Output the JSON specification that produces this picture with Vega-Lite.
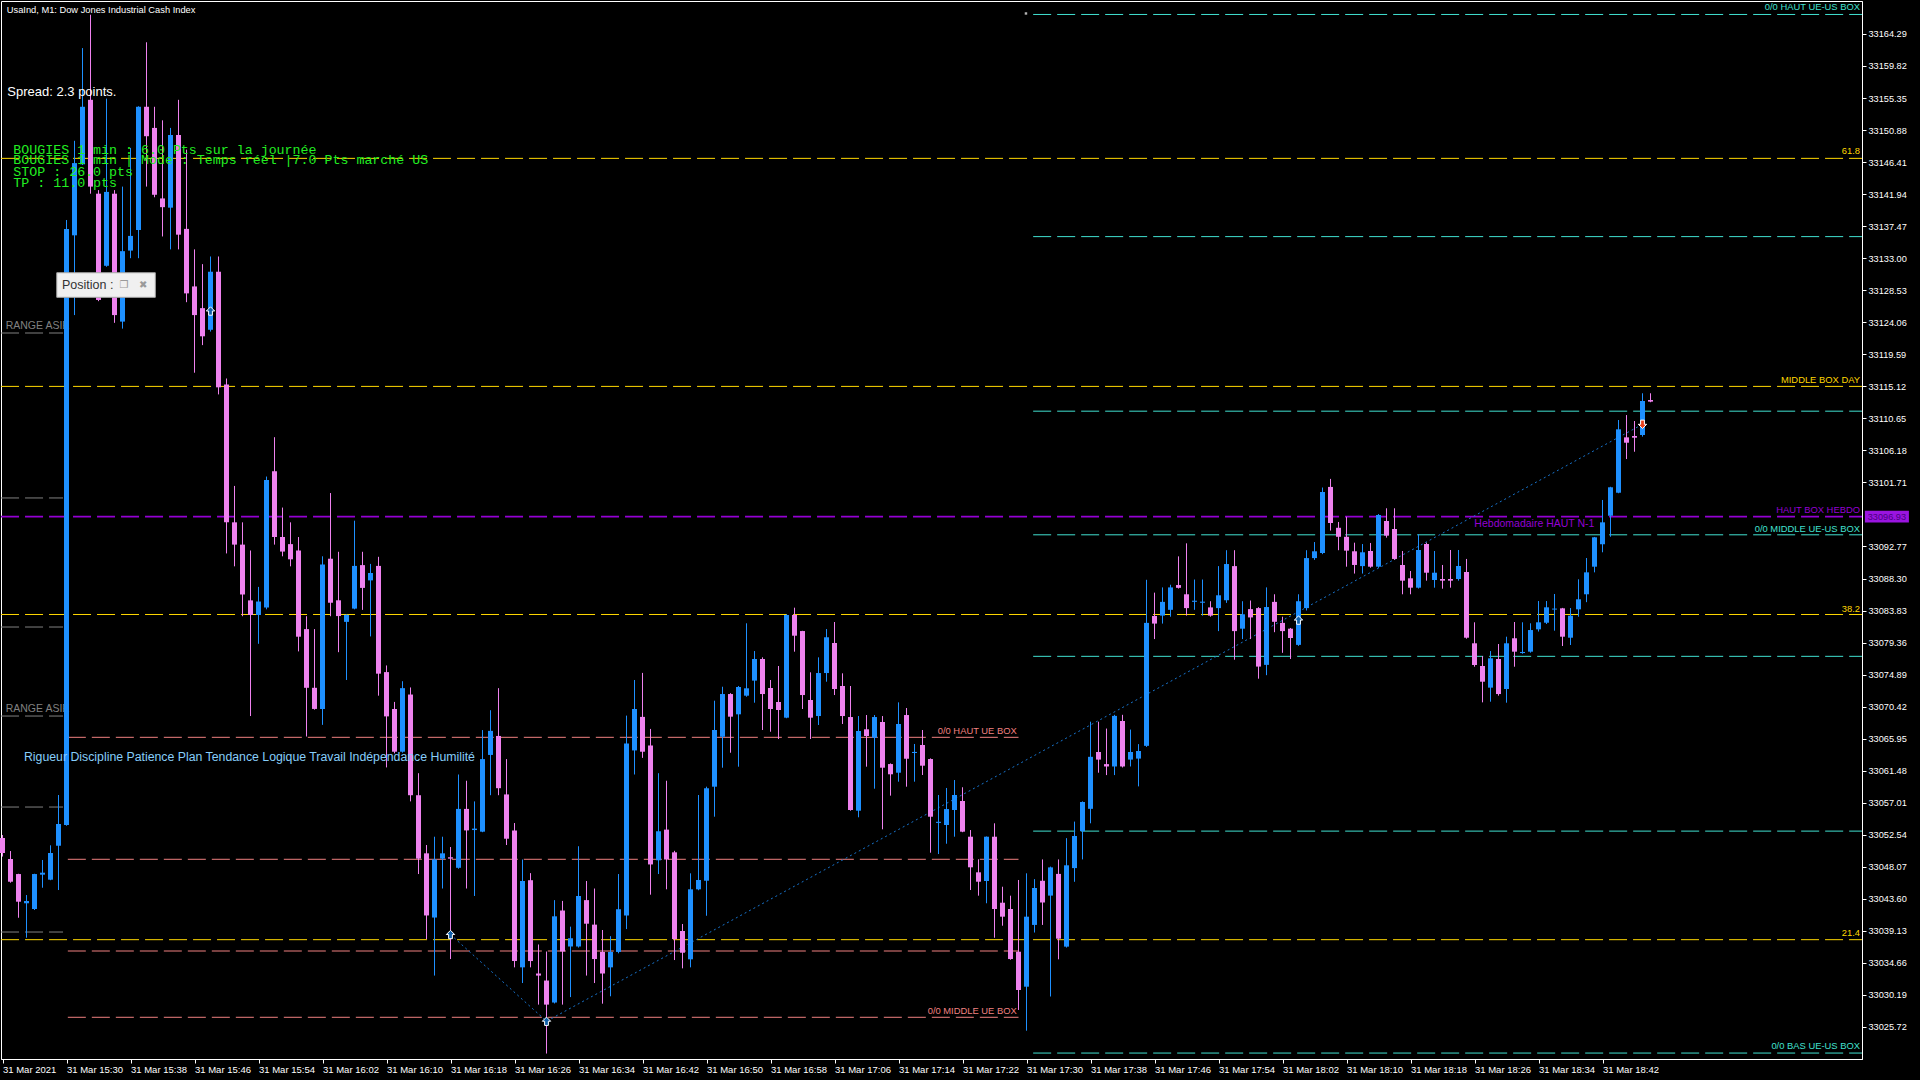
{
  "$schema": "https://vega.github.io/schema/vega-lite/v6.json",
  "width": 1861,
  "height": 1058,
  "autosize": {"type": "none"},
  "padding": {"left": 1, "top": 1, "right": 58, "bottom": 21},
  "background": "#000000",
  "config": {
    "view": {"stroke": "#ffffff", "strokeWidth": 1},
    "font": "Liberation Sans",
    "scale": {"continuousPadding": 0},
    "axis": {"labelOverlap": false, "labelFlush": false, "labelBound": false, "grid": false}
  },
  "datasets": {
    "candles": [
      {"t":"15:22","o":33052.09,"h":33052.5,"l":33049.5,"c":33050.0},
      {"t":"15:23","o":33049.16,"h":33050.27,"l":33045.85,"c":33045.99},
      {"t":"15:24","o":33047.06,"h":33047.1,"l":33040.96,"c":33043.2},
      {"t":"15:25","o":33042.98,"h":33044.13,"l":33038.17,"c":33043.3},
      {"t":"15:26","o":33042.18,"h":33047.1,"l":33042.04,"c":33047.06},
      {"t":"15:27","o":33046.97,"h":33049.02,"l":33045.15,"c":33047.25},
      {"t":"15:28","o":33046.27,"h":33051.07,"l":33046.2,"c":33050.0},
      {"t":"15:29","o":33051.01,"h":33058.09,"l":33044.83,"c":33054.04},
      {"t":"15:30","o":33053.9,"h":33138.33,"l":33053.8,"c":33137.09},
      {"t":"15:31","o":33136.19,"h":33149.38,"l":33125.06,"c":33146.27},
      {"t":"15:32","o":33146.1,"h":33162.32,"l":33146.0,"c":33154.13},
      {"t":"15:33","o":33155.1,"h":33166.98,"l":33142.0,"c":33142.99},
      {"t":"15:34","o":33142.0,"h":33142.5,"l":33127.0,"c":33127.17},
      {"t":"15:35","o":33131.94,"h":33155.27,"l":33131.8,"c":33142.25},
      {"t":"15:36","o":33142.0,"h":33142.5,"l":33123.98,"c":33125.06},
      {"t":"15:37","o":33124.15,"h":33142.99,"l":33123.17,"c":33133.98},
      {"t":"15:38","o":33134.06,"h":33148.39,"l":33133.0,"c":33136.11},
      {"t":"15:39","o":33136.93,"h":33154.2,"l":33133.0,"c":33154.13},
      {"t":"15:40","o":33154.13,"h":33163.13,"l":33142.99,"c":33150.02},
      {"t":"15:41","o":33151.18,"h":33154.13,"l":33141.5,"c":33141.85},
      {"t":"15:42","o":33141.34,"h":33152.24,"l":33136.03,"c":33140.12},
      {"t":"15:43","o":33140.05,"h":33151.18,"l":33134.23,"c":33150.19},
      {"t":"15:44","o":33150.19,"h":33155.1,"l":33134.23,"c":33136.28},
      {"t":"15:45","o":33137.09,"h":33148.15,"l":33126.86,"c":33128.09},
      {"t":"15:46","o":33129.06,"h":33134.23,"l":33117.02,"c":33125.06},
      {"t":"15:47","o":33126.03,"h":33132.17,"l":33120.87,"c":33122.1},
      {"t":"15:48","o":33123.01,"h":33133.24,"l":33122.76,"c":33131.11},
      {"t":"15:49","o":33131.11,"h":33133.24,"l":33113.99,"c":33114.98},
      {"t":"15:50","o":33115.39,"h":33116.21,"l":33091.8,"c":33096.14},
      {"t":"15:51","o":33096.14,"h":33101.22,"l":33090.0,"c":33093.03},
      {"t":"15:52","o":33093.03,"h":33096.14,"l":33083.04,"c":33086.07},
      {"t":"15:53","o":33085.25,"h":33092.21,"l":33069.11,"c":33083.21},
      {"t":"15:54","o":33083.21,"h":33087.13,"l":33079.19,"c":33085.09},
      {"t":"15:55","o":33084.27,"h":33102.53,"l":33084.0,"c":33102.05},
      {"t":"15:56","o":33103.27,"h":33108.02,"l":33093.03,"c":33094.09},
      {"t":"15:57","o":33094.09,"h":33098.2,"l":33091.4,"c":33092.06},
      {"t":"15:58","o":33093.1,"h":33096.14,"l":33090.0,"c":33090.98},
      {"t":"15:59","o":33092.21,"h":33094.09,"l":33078.13,"c":33080.18},
      {"t":"16:00","o":33081.24,"h":33083.04,"l":33066.25,"c":33073.05},
      {"t":"16:01","o":33073.05,"h":33081.24,"l":33070.0,"c":33070.1},
      {"t":"16:02","o":33070.1,"h":33091.4,"l":33067.88,"c":33090.24},
      {"t":"16:03","o":33091.06,"h":33100.23,"l":33083.04,"c":33084.92},
      {"t":"16:04","o":33085.26,"h":33092.03,"l":33078.02,"c":33083.06},
      {"t":"16:05","o":33082.25,"h":33083.3,"l":33074.14,"c":33083.23},
      {"t":"16:06","o":33084.1,"h":33096.37,"l":33084.0,"c":33090.06},
      {"t":"16:07","o":33090.17,"h":33092.03,"l":33083.92,"c":33086.99},
      {"t":"16:08","o":33088.04,"h":33090.34,"l":33080.22,"c":33089.07},
      {"t":"16:09","o":33090.06,"h":33091.33,"l":33071.95,"c":33075.02},
      {"t":"16:10","o":33075.24,"h":33076.17,"l":33061.94,"c":33069.06},
      {"t":"16:11","o":33070.09,"h":33071.08,"l":33063.9,"c":33064.13},
      {"t":"16:12","o":33064.13,"h":33073.97,"l":33064.0,"c":33073.0},
      {"t":"16:13","o":33072.11,"h":33073.1,"l":33057.2,"c":33058.06},
      {"t":"16:14","o":33058.06,"h":33061.13,"l":33047.06,"c":33049.21},
      {"t":"16:15","o":33049.95,"h":33051.11,"l":33037.99,"c":33041.28},
      {"t":"16:16","o":33040.99,"h":33052.27,"l":33032.89,"c":33049.09},
      {"t":"16:17","o":33049.21,"h":33052.27,"l":33045.04,"c":33049.95},
      {"t":"16:18","o":33049.4,"h":33050.83,"l":33035.2,"c":33049.21},
      {"t":"16:19","o":33047.93,"h":33060.95,"l":33047.8,"c":33056.15},
      {"t":"16:20","o":33056.15,"h":33060.08,"l":33045.04,"c":33053.15},
      {"t":"16:21","o":33053.2,"h":33057.2,"l":33044.0,"c":33053.4},
      {"t":"16:22","o":33052.97,"h":33067.15,"l":33052.9,"c":33063.1},
      {"t":"16:23","o":33063.68,"h":33069.92,"l":33058.06,"c":33067.04},
      {"t":"16:24","o":33066.33,"h":33073.0,"l":33058.06,"c":33059.04},
      {"t":"16:25","o":33058.17,"h":33063.1,"l":33051.11,"c":33051.99},
      {"t":"16:26","o":33053.15,"h":33054.18,"l":33034.04,"c":33034.92},
      {"t":"16:27","o":33034.04,"h":33049.09,"l":33031.85,"c":33046.09},
      {"t":"16:28","o":33046.2,"h":33047.19,"l":33034.04,"c":33034.92},
      {"t":"16:29","o":33033.18,"h":33037.23,"l":33028.84,"c":33032.89},
      {"t":"16:30","o":33032.2,"h":33036.25,"l":33022.01,"c":33028.84},
      {"t":"16:31","o":33029.13,"h":33043.42,"l":33029.0,"c":33041.16},
      {"t":"16:32","o":33041.97,"h":33043.31,"l":33028.84,"c":33036.25},
      {"t":"16:33","o":33036.95,"h":33039.72,"l":33029.89,"c":33038.1},
      {"t":"16:34","o":33036.95,"h":33050.94,"l":33036.8,"c":33044.0},
      {"t":"16:35","o":33043.42,"h":33046.09,"l":33032.89,"c":33040.13},
      {"t":"16:36","o":33040.0,"h":33045.04,"l":33031.85,"c":33035.2},
      {"t":"16:37","o":33036.19,"h":33039.25,"l":33028.97,"c":33033.18},
      {"t":"16:38","o":33034.04,"h":33038.39,"l":33030.0,"c":33036.19},
      {"t":"16:39","o":33036.19,"h":33047.06,"l":33036.0,"c":33042.15},
      {"t":"16:40","o":33041.28,"h":33069.17,"l":33039.38,"c":33065.29},
      {"t":"16:41","o":33064.31,"h":33074.14,"l":33060.95,"c":33070.09},
      {"t":"16:42","o":33068.99,"h":33075.13,"l":33063.27,"c":33064.13},
      {"t":"16:43","o":33065.0,"h":33067.31,"l":33044.18,"c":33048.4},
      {"t":"16:44","o":33048.98,"h":33061.13,"l":33047.06,"c":33053.03},
      {"t":"16:45","o":33053.26,"h":33060.08,"l":33044.93,"c":33049.09},
      {"t":"16:46","o":33050.09,"h":33050.3,"l":33035.06,"c":33037.99},
      {"t":"16:47","o":33039.11,"h":33040.09,"l":33033.9,"c":33036.08},
      {"t":"16:48","o":33035.16,"h":33047.16,"l":33034.04,"c":33044.93},
      {"t":"16:49","o":33044.93,"h":33058.09,"l":33044.8,"c":33046.23},
      {"t":"16:50","o":33046.13,"h":33059.25,"l":33041.24,"c":33059.03},
      {"t":"16:51","o":33059.25,"h":33071.25,"l":33055.06,"c":33067.16},
      {"t":"16:52","o":33066.22,"h":33073.2,"l":33061.9,"c":33072.18},
      {"t":"16:53","o":33072.18,"h":33072.3,"l":33063.99,"c":33069.02},
      {"t":"16:54","o":33069.35,"h":33073.3,"l":33062.04,"c":33073.16},
      {"t":"16:55","o":33071.95,"h":33082.05,"l":33071.8,"c":33072.98},
      {"t":"16:56","o":33074.05,"h":33078.18,"l":33070.97,"c":33077.07},
      {"t":"16:57","o":33077.07,"h":33077.3,"l":33067.16,"c":33072.18},
      {"t":"16:58","o":33073.02,"h":33074.14,"l":33066.92,"c":33070.09},
      {"t":"16:59","o":33071.07,"h":33076.09,"l":33065.9,"c":33069.95},
      {"t":"17:00","o":33068.88,"h":33083.3,"l":33068.8,"c":33083.21},
      {"t":"17:01","o":33083.21,"h":33084.23,"l":33078.09,"c":33080.32},
      {"t":"17:02","o":33080.97,"h":33081.0,"l":33070.09,"c":33072.04},
      {"t":"17:03","o":33071.35,"h":33075.21,"l":33065.9,"c":33068.88},
      {"t":"17:04","o":33069.11,"h":33077.3,"l":33067.86,"c":33075.11},
      {"t":"17:05","o":33075.11,"h":33081.25,"l":33073.9,"c":33080.1},
      {"t":"17:06","o":33079.3,"h":33082.23,"l":33072.04,"c":33072.88},
      {"t":"17:07","o":33073.3,"h":33075.07,"l":33068.0,"c":33069.11},
      {"t":"17:08","o":33068.97,"h":33073.3,"l":33055.9,"c":33056.0},
      {"t":"17:09","o":33055.9,"h":33069.11,"l":33054.98,"c":33067.02},
      {"t":"17:10","o":33067.26,"h":33069.25,"l":33062.04,"c":33066.32},
      {"t":"17:11","o":33066.08,"h":33069.25,"l":33058.97,"c":33068.97},
      {"t":"17:12","o":33068.28,"h":33069.11,"l":33053.3,"c":33061.9},
      {"t":"17:13","o":33062.41,"h":33062.5,"l":33058.0,"c":33060.98},
      {"t":"17:14","o":33061.2,"h":33071.02,"l":33059.95,"c":33068.0},
      {"t":"17:15","o":33069.25,"h":33070.23,"l":33059.25,"c":33063.15},
      {"t":"17:16","o":33063.95,"h":33065.21,"l":33059.95,"c":33064.1},
      {"t":"17:17","o":33065.07,"h":33067.16,"l":33060.88,"c":33062.18},
      {"t":"17:18","o":33063.11,"h":33063.2,"l":33050.04,"c":33055.06},
      {"t":"17:19","o":33054.2,"h":33058.09,"l":33049.85,"c":33054.35},
      {"t":"17:20","o":33053.9,"h":33059.07,"l":33051.29,"c":33056.13},
      {"t":"17:21","o":33056.0,"h":33060.18,"l":33052.27,"c":33058.09},
      {"t":"17:22","o":33057.25,"h":33059.17,"l":33052.9,"c":33052.97},
      {"t":"17:23","o":33052.27,"h":33053.2,"l":33044.83,"c":33048.0},
      {"t":"17:24","o":33047.3,"h":33049.12,"l":33044.04,"c":33045.99},
      {"t":"17:25","o":33046.09,"h":33052.3,"l":33042.98,"c":33052.27},
      {"t":"17:26","o":33052.27,"h":33054.14,"l":33038.17,"c":33042.18},
      {"t":"17:27","o":33043.06,"h":33045.29,"l":33039.85,"c":33041.11},
      {"t":"17:28","o":33042.18,"h":33044.04,"l":33035.1,"c":33035.2},
      {"t":"17:29","o":33036.22,"h":33046.23,"l":33028.09,"c":33030.88},
      {"t":"17:30","o":33031.34,"h":33047.16,"l":33025.2,"c":33041.11},
      {"t":"17:31","o":33039.96,"h":33046.35,"l":33038.9,"c":33045.11},
      {"t":"17:32","o":33046.12,"h":33049.1,"l":33039.96,"c":33043.09},
      {"t":"17:33","o":33044.05,"h":33048.1,"l":33029.97,"c":33047.99},
      {"t":"17:34","o":33047.08,"h":33049.1,"l":33035.16,"c":33038.04},
      {"t":"17:35","o":33036.93,"h":33052.07,"l":33036.8,"c":33048.28},
      {"t":"17:36","o":33047.89,"h":33054.38,"l":33045.98,"c":33052.37},
      {"t":"17:37","o":33053.04,"h":33057.2,"l":33049.1,"c":33057.11},
      {"t":"17:38","o":33056.16,"h":33068.32,"l":33054.14,"c":33063.42},
      {"t":"17:39","o":33064.09,"h":33068.32,"l":33061.2,"c":33063.03},
      {"t":"17:40","o":33062.4,"h":33067.36,"l":33060.87,"c":33062.07},
      {"t":"17:41","o":33062.07,"h":33069.28,"l":33060.87,"c":33069.13},
      {"t":"17:42","o":33068.42,"h":33069.28,"l":33061.93,"c":33062.07},
      {"t":"17:43","o":33063.03,"h":33067.22,"l":33062.07,"c":33064.09},
      {"t":"17:44","o":33063.17,"h":33065.19,"l":33059.29,"c":33064.23},
      {"t":"17:45","o":33064.95,"h":33088.12,"l":33064.8,"c":33082.11},
      {"t":"17:46","o":33083.07,"h":33086.33,"l":33079.85,"c":33082.01},
      {"t":"17:47","o":33083.12,"h":33087.06,"l":33082.01,"c":33085.04},
      {"t":"17:48","o":33083.93,"h":33087.43,"l":33082.97,"c":33087.06},
      {"t":"17:49","o":33087.39,"h":33091.39,"l":33086.9,"c":33087.0},
      {"t":"17:50","o":33086.1,"h":33093.21,"l":33083.12,"c":33084.17},
      {"t":"17:51","o":33085.05,"h":33088.16,"l":33083.93,"c":33085.2},
      {"t":"17:52","o":33084.92,"h":33088.16,"l":33083.12,"c":33085.07},
      {"t":"17:53","o":33084.27,"h":33085.13,"l":33082.97,"c":33083.12},
      {"t":"17:54","o":33084.17,"h":33090.03,"l":33080.96,"c":33085.96},
      {"t":"17:55","o":33085.27,"h":33092.25,"l":33084.9,"c":33090.32},
      {"t":"17:56","o":33090.03,"h":33092.25,"l":33076.97,"c":33080.96},
      {"t":"17:57","o":33081.3,"h":33085.13,"l":33079.85,"c":33083.31},
      {"t":"17:58","o":33084.03,"h":33085.23,"l":33079.85,"c":33082.87},
      {"t":"17:59","o":33084.17,"h":33084.3,"l":33074.32,"c":33076.01},
      {"t":"18:00","o":33076.25,"h":33087.06,"l":33074.81,"c":33084.32},
      {"t":"18:01","o":33085.04,"h":33086.1,"l":33080.81,"c":33082.26},
      {"t":"18:02","o":33082.11,"h":33082.97,"l":33077.93,"c":33080.96},
      {"t":"18:03","o":33081.3,"h":33081.4,"l":33077.07,"c":33080.0},
      {"t":"18:04","o":33079.04,"h":33086.1,"l":33078.9,"c":33085.13},
      {"t":"18:05","o":33084.17,"h":33092.25,"l":33083.84,"c":33091.15},
      {"t":"18:06","o":33091.15,"h":33093.39,"l":33090.9,"c":33092.1},
      {"t":"18:07","o":33091.86,"h":33101.0,"l":33091.7,"c":33100.37},
      {"t":"18:08","o":33101.08,"h":33102.2,"l":33094.99,"c":33096.05},
      {"t":"18:09","o":33095.38,"h":33096.19,"l":33092.25,"c":33094.12},
      {"t":"18:10","o":33094.12,"h":33096.91,"l":33089.95,"c":33092.19},
      {"t":"18:11","o":33092.1,"h":33093.3,"l":33088.99,"c":33090.19},
      {"t":"18:12","o":33090.03,"h":33093.11,"l":33088.99,"c":33091.96},
      {"t":"18:13","o":33092.14,"h":33093.26,"l":33089.8,"c":33089.95},
      {"t":"18:14","o":33089.95,"h":33097.3,"l":33089.8,"c":33097.16},
      {"t":"18:15","o":33096.33,"h":33098.1,"l":33094.0,"c":33094.28},
      {"t":"18:16","o":33095.21,"h":33098.1,"l":33090.9,"c":33091.03},
      {"t":"18:17","o":33090.19,"h":33092.14,"l":33086.1,"c":33088.0},
      {"t":"18:18","o":33088.33,"h":33089.35,"l":33086.1,"c":33087.02},
      {"t":"18:19","o":33087.02,"h":33094.47,"l":33086.9,"c":33092.28},
      {"t":"18:20","o":33093.12,"h":33093.3,"l":33088.0,"c":33089.11},
      {"t":"18:21","o":33088.09,"h":33092.14,"l":33087.02,"c":33089.11},
      {"t":"18:22","o":33088.23,"h":33090.19,"l":33086.88,"c":33088.0},
      {"t":"18:23","o":33088.23,"h":33092.28,"l":33087.02,"c":33088.0},
      {"t":"18:24","o":33088.23,"h":33092.28,"l":33088.0,"c":33090.05},
      {"t":"18:25","o":33089.21,"h":33091.03,"l":33079.9,"c":33080.04},
      {"t":"18:26","o":33079.26,"h":33082.19,"l":33075.99,"c":33076.23},
      {"t":"18:27","o":33076.09,"h":33077.48,"l":33071.02,"c":33073.9},
      {"t":"18:28","o":33073.07,"h":33078.18,"l":33071.11,"c":33077.16},
      {"t":"18:29","o":33077.07,"h":33079.16,"l":33071.95,"c":33072.18},
      {"t":"18:30","o":33072.88,"h":33080.18,"l":33070.97,"c":33079.26},
      {"t":"18:31","o":33079.96,"h":33082.23,"l":33075.99,"c":33078.09},
      {"t":"18:32","o":33077.9,"h":33082.19,"l":33077.8,"c":33078.05},
      {"t":"18:33","o":33078.09,"h":33082.05,"l":33077.95,"c":33081.11},
      {"t":"18:34","o":33081.21,"h":33085.16,"l":33080.9,"c":33082.19},
      {"t":"18:35","o":33082.13,"h":33085.16,"l":33081.95,"c":33084.28},
      {"t":"18:36","o":33083.97,"h":33086.14,"l":33081.02,"c":33084.1},
      {"t":"18:37","o":33084.14,"h":33084.2,"l":33078.88,"c":33080.18},
      {"t":"18:38","o":33080.04,"h":33084.18,"l":33079.02,"c":33083.11},
      {"t":"18:39","o":33084.0,"h":33088.19,"l":33082.97,"c":33085.4},
      {"t":"18:40","o":33086.1,"h":33091.16,"l":33085.0,"c":33089.16},
      {"t":"18:41","o":33089.95,"h":33094.1,"l":33089.16,"c":33094.05},
      {"t":"18:42","o":33093.08,"h":33099.26,"l":33091.96,"c":33096.14},
      {"t":"18:43","o":33097.06,"h":33101.1,"l":33094.13,"c":33101.03},
      {"t":"18:44","o":33100.27,"h":33110.42,"l":33100.2,"c":33109.12},
      {"t":"18:45","o":33108.0,"h":33111.11,"l":33104.97,"c":33107.25},
      {"t":"18:46","o":33108.19,"h":33110.28,"l":33105.99,"c":33107.95},
      {"t":"18:47","o":33108.33,"h":33114.15,"l":33108.1,"c":33113.07},
      {"t":"18:48","o":33113.21,"h":33114.15,"l":33112.9,"c":33112.98}
    ],
    "levels": [
      {"g":"fibo","p":33146.93,"t0":"15:21:49","t1":"19:14:26"},
      {"g":"fibo","p":33115.11,"t0":"15:21:49","t1":"19:14:26"},
      {"g":"fibo","p":33083.28,"t0":"15:21:49","t1":"19:14:26"},
      {"g":"fibo","p":33037.9,"t0":"15:21:49","t1":"19:14:26"},
      {"g":"hebdo","p":33096.93,"t0":"15:21:49","t1":"19:14:26"},
      {"g":"box","p":33167.01,"t0":"17:30:50","t1":"19:14:26"},
      {"g":"box","p":33136.01,"t0":"17:30:50","t1":"19:14:26"},
      {"g":"box","p":33111.65,"t0":"17:30:50","t1":"19:14:26"},
      {"g":"box","p":33094.4,"t0":"17:30:50","t1":"19:14:26"},
      {"g":"box","p":33077.44,"t0":"17:30:50","t1":"19:14:26"},
      {"g":"box","p":33053.05,"t0":"17:30:50","t1":"19:14:26"},
      {"g":"box","p":33022.08,"t0":"17:30:50","t1":"19:14:26"},
      {"g":"ue","p":33066.14,"t0":"15:30:10","t1":"17:29:00"},
      {"g":"ue","p":33049.12,"t0":"15:30:10","t1":"17:29:00"},
      {"g":"ue","p":33036.32,"t0":"15:30:10","t1":"17:29:00"},
      {"g":"ue","p":33027.07,"t0":"15:30:10","t1":"17:29:00"},
      {"g":"asie","p":33122.56,"t0":"15:21:49","t1":"15:29:34"},
      {"g":"asie","p":33099.54,"t0":"15:21:49","t1":"15:29:34"},
      {"g":"asie","p":33081.53,"t0":"15:21:49","t1":"15:29:34"},
      {"g":"asie","p":33069.11,"t0":"15:21:49","t1":"15:29:34"},
      {"g":"asie","p":33056.41,"t0":"15:21:49","t1":"15:29:34"},
      {"g":"asie","p":33038.97,"t0":"15:21:49","t1":"15:29:34"}
    ],
    "labels_right": [
      {"txt":"0/0 HAUT UE-US BOX","g":"box","p":33168.05,"t":"19:14:11"},
      {"txt":"61.8","g":"fibo","p":33147.89,"t":"19:14:11"},
      {"txt":"MIDDLE BOX DAY","g":"fibo","p":33116.03,"t":"19:14:11"},
      {"txt":"HAUT BOX HEBDO","g":"hebdo","p":33097.82,"t":"19:14:11"},
      {"txt":"0/0 MIDDLE UE-US BOX","g":"box","p":33095.18,"t":"19:14:11"},
      {"txt":"38.2","g":"fibo","p":33084.06,"t":"19:14:11"},
      {"txt":"21.4","g":"fibo","p":33038.79,"t":"19:14:11"},
      {"txt":"0/0 BAS UE-US BOX","g":"box","p":33023.04,"t":"19:14:11"},
      {"txt":"0/0 HAUT UE BOX","g":"ue","p":33067.06,"t":"17:28:47"},
      {"txt":"0/0 MIDDLE UE BOX","g":"ue","p":33028.0,"t":"17:28:47"}
    ],
    "labels_left": [
      {"txt":"RANGE ASIE","g":"asie","p":33123.5,"t":"15:22:24"},
      {"txt":"RANGE ASIE","g":"asie","p":33070.09,"t":"15:22:24"},
      {"txt":"Hebdomadaire HAUT N-1","g":"hebdo","p":33095.91,"t":"18:25:59"}
    ],
    "trend": [
      {"t":"16:18:00","p":33038.62},
      {"t":"16:30:00","p":33026.52},
      {"t":"18:47:00","p":33109.82}
    ],
    "signals": [
      {"t":"15:48:00","p":33125.63,"side":"buy"},
      {"t":"16:18:00","p":33038.62,"side":"buy"},
      {"t":"16:30:00","p":33026.52,"side":"buy"},
      {"t":"18:04:00","p":33082.5,"side":"buy"},
      {"t":"18:47:00","p":33109.82,"side":"sell"}
    ],
    "dot": [{"t":"17:29:56","p":33167.15}],
    "title": [{"txt":"UsaInd, M1:  Dow Jones Industrial Cash Index","t":"15:22:32","p":33167.7}],
    "spread": [{"txt":"Spread: 2.3 points.","t":"15:22:36","p":33156.26}],
    "green": [
      {"txt":"BOUGIES 1 min : 6.0 Pts sur la journée","t":"15:23:21","p":33148.1},
      {"txt":"BOUGIES 1 min | Mode : Temps réel |7.0 Pts marché US","t":"15:23:21","p":33146.7},
      {"txt":"STOP : 26.0 pts","t":"15:23:21","p":33145.03},
      {"txt":"TP : 11.0 pts","t":"15:23:21","p":33143.45}
    ],
    "motto": [{"txt":"Rigueur Discipline Patience Plan Tendance Logique Travail Indépendance Humilité","t":"15:24:41","p":33063.43}],
    "posbox": [{"t0":"15:28:47","t1":"15:41:06","p0":33130.97,"p1":33127.54}],
    "postext": [{"txt":"Position :","t":"15:29:26","p":33129.22}],
    "posicons": [{"txt":"❐","t":"15:37:11","p":33129.22},{"txt":"✖","t":"15:39:36","p":33129.22}],
    "tag": [{"t0":"19:14:48","t1":"19:20:18","p0":33097.76,"p1":33096.1,"txt":"33096.93","t":"19:17:33","p":33096.93}]
  },
  "layer": [
    {
      "data": {"name": "levels", "format": {"parse": {"t0": "utc:'%H:%M:%S'", "t1": "utc:'%H:%M:%S'"}}},
      "mark": {"type": "rule", "strokeDash": [18, 6]},
      "encoding": {
        "x": {"field": "t0", "type": "temporal",
          "scale": {"type": "utc", "nice": false, "padding": 0, "domain": [{"year":1900,"month":1,"date":1,"hours":15,"minutes":21,"seconds":48,"milliseconds":750,"utc":true},{"year":1900,"month":1,"date":1,"hours":19,"minutes":14,"seconds":26,"milliseconds":250,"utc":true}]},
          "axis": {"title": null, "orient": "bottom", "grid": false, "domainColor": "#ffffff", "tickColor": "#ffffff", "tickSize": 4, "tickCount": 200, "labelColor": "#ffffff", "labelFont": "Liberation Sans", "labelFontSize": 9.5, "labelAlign": "left", "labelBaseline": "top", "labelPadding": 1, "labelOverlap": false, "labelFlush": false, "labelBound": false,
            "values": [
              {"year":1900,"month":1,"date":1,"hours":15,"minutes":22,"utc":true},
              {"year":1900,"month":1,"date":1,"hours":15,"minutes":30,"utc":true},
              {"year":1900,"month":1,"date":1,"hours":15,"minutes":38,"utc":true},
              {"year":1900,"month":1,"date":1,"hours":15,"minutes":46,"utc":true},
              {"year":1900,"month":1,"date":1,"hours":15,"minutes":54,"utc":true},
              {"year":1900,"month":1,"date":1,"hours":16,"minutes":2,"utc":true},
              {"year":1900,"month":1,"date":1,"hours":16,"minutes":10,"utc":true},
              {"year":1900,"month":1,"date":1,"hours":16,"minutes":18,"utc":true},
              {"year":1900,"month":1,"date":1,"hours":16,"minutes":26,"utc":true},
              {"year":1900,"month":1,"date":1,"hours":16,"minutes":34,"utc":true},
              {"year":1900,"month":1,"date":1,"hours":16,"minutes":42,"utc":true},
              {"year":1900,"month":1,"date":1,"hours":16,"minutes":50,"utc":true},
              {"year":1900,"month":1,"date":1,"hours":16,"minutes":58,"utc":true},
              {"year":1900,"month":1,"date":1,"hours":17,"minutes":6,"utc":true},
              {"year":1900,"month":1,"date":1,"hours":17,"minutes":14,"utc":true},
              {"year":1900,"month":1,"date":1,"hours":17,"minutes":22,"utc":true},
              {"year":1900,"month":1,"date":1,"hours":17,"minutes":30,"utc":true},
              {"year":1900,"month":1,"date":1,"hours":17,"minutes":38,"utc":true},
              {"year":1900,"month":1,"date":1,"hours":17,"minutes":46,"utc":true},
              {"year":1900,"month":1,"date":1,"hours":17,"minutes":54,"utc":true},
              {"year":1900,"month":1,"date":1,"hours":18,"minutes":2,"utc":true},
              {"year":1900,"month":1,"date":1,"hours":18,"minutes":10,"utc":true},
              {"year":1900,"month":1,"date":1,"hours":18,"minutes":18,"utc":true},
              {"year":1900,"month":1,"date":1,"hours":18,"minutes":26,"utc":true},
              {"year":1900,"month":1,"date":1,"hours":18,"minutes":34,"utc":true},
              {"year":1900,"month":1,"date":1,"hours":18,"minutes":42,"utc":true}
            ],
            "labelExpr": "utchours(datum.value) == 15 && utcminutes(datum.value) == 22 ? '31 Mar 2021' : '31 Mar ' + utcFormat(datum.value, '%H:%M')"
          }
        },
        "x2": {"field": "t1"},
        "y": {"field": "p", "type": "quantitative",
          "scale": {"domain": [33021.25, 33168.89], "zero": false, "nice": false},
          "axis": {"title": null, "orient": "right", "grid": false, "domainColor": "#ffffff", "tickColor": "#ffffff", "tickSize": 4, "tickCount": 200, "labelColor": "#ffffff", "labelFont": "Liberation Sans", "labelFontSize": 9.2, "labelPadding": 2, "format": ".2f", "labelOverlap": false, "labelFlush": false, "labelBound": false,
            "values": [33025.72,33030.19,33034.66,33039.13,33043.6,33048.07,33052.54,33057.01,33061.48,33065.95,33070.42,33074.89,33079.36,33083.83,33088.3,33092.77,33101.71,33106.18,33110.65,33115.12,33119.59,33124.06,33128.53,33133.0,33137.47,33141.94,33146.41,33150.88,33155.35,33159.82,33164.29]
          }
        },
        "color": {"field": "g", "type": "nominal", "legend": null,
          "scale": {"domain": ["fibo", "box", "ue", "hebdo", "asie"], "range": ["#FFD700", "#40E0D0", "#F08080", "#9400D3", "#808080"]}},
        "strokeWidth": {"condition": {"test": "datum.g == 'hebdo'", "value": 1.6}, "value": 1}
      }
    },
    {
      "data": {"name": "labels_left", "format": {"parse": {"t": "utc:'%H:%M:%S'"}}},
      "mark": {"type": "text", "align": "left", "baseline": "middle", "font": "Liberation Sans", "fontSize": 10.5},
      "encoding": {
        "x": {"field": "t", "type": "temporal"},
        "y": {"field": "p", "type": "quantitative"},
        "text": {"field": "txt"},
        "color": {"field": "g", "type": "nominal", "legend": null}
      }
    },
    {
      "data": {"name": "labels_right", "format": {"parse": {"t": "utc:'%H:%M:%S'"}}},
      "mark": {"type": "text", "align": "right", "baseline": "middle", "font": "Liberation Sans", "fontSize": 9.4},
      "encoding": {
        "x": {"field": "t", "type": "temporal"},
        "y": {"field": "p", "type": "quantitative"},
        "text": {"field": "txt"},
        "color": {"field": "g", "type": "nominal", "legend": null}
      }
    },
    {
      "data": {"name": "trend", "format": {"parse": {"t": "utc:'%H:%M:%S'"}}},
      "mark": {"type": "line", "color": "#1874CD", "strokeWidth": 1, "strokeDash": [2, 3]},
      "encoding": {
        "x": {"field": "t", "type": "temporal"},
        "y": {"field": "p", "type": "quantitative"}
      }
    },
    {
      "data": {"name": "candles", "format": {"parse": {"t": "utc:'%H:%M'"}}},
      "encoding": {
        "x": {"field": "t", "type": "temporal"},
        "color": {"condition": {"test": "datum.c >= datum.o", "value": "#1E90FF"}, "value": "#EE82EE"}
      },
      "layer": [
        {
          "mark": {"type": "rule", "strokeWidth": 1},
          "encoding": {
            "y": {"field": "l", "type": "quantitative"},
            "y2": {"field": "h"}
          }
        },
        {
          "mark": {"type": "bar", "width": 5},
          "encoding": {
            "y": {"field": "o", "type": "quantitative"},
            "y2": {"field": "c"}
          }
        }
      ]
    },
    {
      "data": {"name": "signals", "format": {"parse": {"t": "utc:'%H:%M:%S'"}}},
      "mark": {"type": "point", "filled": true, "size": 70, "stroke": "#ffffff", "strokeWidth": 1, "opacity": 1},
      "encoding": {
        "x": {"field": "t", "type": "temporal"},
        "y": {"field": "p", "type": "quantitative"},
        "shape": {"condition": {"test": "datum.side == 'sell'", "value": "M0,1L1,0L0.45,0L0.45,-1L-0.45,-1L-0.45,0L-1,0Z"}, "value": "M0,-1L1,0L0.45,0L0.45,1L-0.45,1L-0.45,0L-1,0Z"},
        "fill": {"condition": {"test": "datum.side == 'sell'", "value": "#E8401C"}, "value": "#0E5FA8"}
      }
    },
    {
      "data": {"name": "dot", "format": {"parse": {"t": "utc:'%H:%M:%S'"}}},
      "mark": {"type": "square", "size": 6, "color": "#ffffff", "filled": true},
      "encoding": {
        "x": {"field": "t", "type": "temporal"},
        "y": {"field": "p", "type": "quantitative"}
      }
    },
    {
      "data": {"name": "title", "format": {"parse": {"t": "utc:'%H:%M:%S'"}}},
      "mark": {"type": "text", "align": "left", "baseline": "middle", "font": "Liberation Sans", "fontSize": 9.3, "color": "#ffffff"},
      "encoding": {
        "x": {"field": "t", "type": "temporal"},
        "y": {"field": "p", "type": "quantitative"},
        "text": {"field": "txt"}
      }
    },
    {
      "data": {"name": "spread", "format": {"parse": {"t": "utc:'%H:%M:%S'"}}},
      "mark": {"type": "text", "align": "left", "baseline": "middle", "font": "Liberation Sans", "fontSize": 13, "color": "#ffffff"},
      "encoding": {
        "x": {"field": "t", "type": "temporal"},
        "y": {"field": "p", "type": "quantitative"},
        "text": {"field": "txt"}
      }
    },
    {
      "data": {"name": "green", "format": {"parse": {"t": "utc:'%H:%M:%S'"}}},
      "mark": {"type": "text", "align": "left", "baseline": "middle", "font": "Liberation Mono", "fontSize": 13.3, "color": "#22ee22"},
      "encoding": {
        "x": {"field": "t", "type": "temporal"},
        "y": {"field": "p", "type": "quantitative"},
        "text": {"field": "txt"}
      }
    },
    {
      "data": {"name": "motto", "format": {"parse": {"t": "utc:'%H:%M:%S'"}}},
      "mark": {"type": "text", "align": "left", "baseline": "middle", "font": "Liberation Sans", "fontSize": 12.3, "color": "#87CEFA"},
      "encoding": {
        "x": {"field": "t", "type": "temporal"},
        "y": {"field": "p", "type": "quantitative"},
        "text": {"field": "txt"}
      }
    },
    {
      "data": {"name": "posbox", "format": {"parse": {"t0": "utc:'%H:%M:%S'", "t1": "utc:'%H:%M:%S'"}}},
      "mark": {"type": "rect", "fill": "#f0f0f0", "stroke": "#a8a8a8", "strokeWidth": 1},
      "encoding": {
        "x": {"field": "t0", "type": "temporal"},
        "x2": {"field": "t1"},
        "y": {"field": "p0", "type": "quantitative"},
        "y2": {"field": "p1"}
      }
    },
    {
      "data": {"name": "postext", "format": {"parse": {"t": "utc:'%H:%M:%S'"}}},
      "mark": {"type": "text", "align": "left", "baseline": "middle", "font": "Liberation Sans", "fontSize": 12.5, "color": "#333333"},
      "encoding": {
        "x": {"field": "t", "type": "temporal"},
        "y": {"field": "p", "type": "quantitative"},
        "text": {"field": "txt"}
      }
    },
    {
      "data": {"name": "posicons", "format": {"parse": {"t": "utc:'%H:%M:%S'"}}},
      "mark": {"type": "text", "align": "center", "baseline": "middle", "font": "DejaVu Sans", "fontSize": 10, "color": "#9a9a9a"},
      "encoding": {
        "x": {"field": "t", "type": "temporal"},
        "y": {"field": "p", "type": "quantitative"},
        "text": {"field": "txt"}
      }
    },
    {
      "data": {"name": "tag", "format": {"parse": {"t0": "utc:'%H:%M:%S'", "t1": "utc:'%H:%M:%S'", "t": "utc:'%H:%M:%S'"}}},
      "layer": [
        {
          "mark": {"type": "rect", "fill": "#9a14e0"},
          "encoding": {
            "x": {"field": "t0", "type": "temporal"},
            "x2": {"field": "t1"},
            "y": {"field": "p0", "type": "quantitative"},
            "y2": {"field": "p1"}
          }
        },
        {
          "mark": {"type": "text", "align": "center", "baseline": "middle", "font": "Liberation Sans", "fontSize": 9.2, "color": "#4a0080"},
          "encoding": {
            "x": {"field": "t", "type": "temporal"},
            "y": {"field": "p", "type": "quantitative"},
            "text": {"field": "txt"}
          }
        }
      ]
    }
  ]
}
